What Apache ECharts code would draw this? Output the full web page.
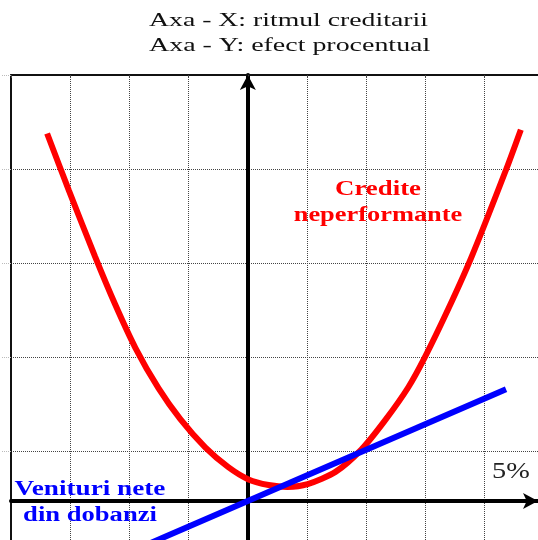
<!DOCTYPE html>
<html>
<head>
<meta charset="utf-8">
<script src="https://cdn.jsdelivr.net/npm/echarts@6/dist/echarts.min.js"></script>
<style>
html, body { margin: 0; padding: 0; background: #fff; }
#chart { width: 538px; height: 540px; }
</style>
</head>
<body>
<div id="chart"></div>
<script>
// x: ritmul creditarii (one grid column = 1 unit), y: efect procentual (x axis at y = 0)
const crediteNeperformante = [
  [-3.39, 3.91], [-3.02, 3.30], [-2.58, 2.60], [-2.24, 2.09], [-1.90, 1.63],
  [-1.51, 1.20], [-1.14, 0.87], [-0.72, 0.57], [-0.33, 0.36], [0.01, 0.23],
  [0.35, 0.17], [0.67, 0.15], [1.01, 0.18], [1.48, 0.31], [1.92, 0.55],
  [2.32, 0.86], [2.71, 1.21], [2.99, 1.53], [3.39, 2.05], [3.78, 2.60],
  [4.37, 3.54], [4.61, 3.95]
]
const venituriNete = [[-1.8, -0.49], [4.36, 1.19]]

const titleLines = ['Axa - X: ritmul creditarii', 'Axa - Y: efect procentual']
const redLabel = ['Credite', 'neperformante']
const blueLabel = ['Venituri nete', 'din dobanzi']
const xUnitLabel = '5%'

const xMin = -4, xMax = 4.9
const yMin = -0.468, yMax = 4.532

const serif = '"Liberation Serif", "Times New Roman", serif'

function txt(text, x, y, o) {
  return {
    type: 'text', x: x, y: y, scaleX: o.scaleX || 1, z: 100,
    style: {
      text: text, fill: o.color || '#111',
      fontSize: o.size, fontFamily: serif, fontWeight: o.bold ? 'bold' : 'normal',
      align: o.align || 'center', verticalAlign: 'middle',
      textAlign: o.align || 'center', textVerticalAlign: 'middle'
    }
  }
}

const chart = echarts.init(document.getElementById('chart'))

const dotted = { color: '#444', type: 'dotted', width: 1 }

chart.setOption({
  animation: false,
  backgroundColor: '#fff',
  // grid runs a few px past the bottom edge, like the cropped original
  grid: { left: 11, right: 0, top: 75, height: 470, outerBoundsMode: 'none', containLabel: false },
  xAxis: [
    {
      type: 'value', min: xMin, max: xMax, interval: 1,
      axisLine: {
        show: true, onZero: true,
        symbol: ['none', 'arrow'], symbolSize: [12, 15],
        lineStyle: { color: '#000', width: 4 }
      },
      axisTick: { show: false },
      axisLabel: { show: false },
      splitLine: { show: true, showMaxLine: false, lineStyle: dotted }
    },
    {
      type: 'value', position: 'top', min: xMin, max: xMax, interval: 1,
      axisLine: { show: true, onZero: false, lineStyle: { color: '#111', width: 2 } },
      axisTick: { show: true, inside: true, length: 3, lineStyle: { color: '#444' } },
      axisLabel: { show: false },
      splitLine: { show: false }
    }
  ],
  yAxis: [
    {
      type: 'value', min: yMin, max: yMax, interval: 1,
      axisLine: {
        show: true, onZero: true,
        symbol: ['none', 'arrow'], symbolSize: [12, 15],
        lineStyle: { color: '#000', width: 4 }
      },
      axisTick: { show: false },
      axisLabel: { show: false },
      splitLine: { show: true, lineStyle: dotted }
    },
    {
      type: 'value', position: 'left', min: yMin, max: yMax, interval: 1,
      axisLine: { show: true, onZero: false, lineStyle: { color: '#111', width: 2 } },
      axisTick: { show: true, length: 9, lineStyle: { color: '#bbb', type: 'dotted' } },
      axisLabel: { show: false },
      splitLine: { show: false }
    }
  ],
  series: [
    {
      name: 'Credite neperformante', type: 'line', data: crediteNeperformante,
      smooth: 0.25, showSymbol: false, z: 3,
      lineStyle: { color: '#ff0000', width: 6 }
    },
    {
      name: 'Venituri nete din dobanzi', type: 'line', data: venituriNete,
      showSymbol: false, z: 4,
      lineStyle: { color: '#0000ff', width: 6 }
    }
  ],
  graphic: [
    txt(titleLines[0], 149, 21.5, { size: 19, scaleX: 1.46, align: 'left' }),
    txt(titleLines[1], 149, 46.5, { size: 19, scaleX: 1.47, align: 'left' }),
    txt(redLabel[0], 378, 189, { size: 22, bold: true, color: '#ff0000', scaleX: 1.22 }),
    txt(redLabel[1], 378, 215.5, { size: 22, bold: true, color: '#ff0000', scaleX: 1.2 }),
    txt(blueLabel[0], 90, 489.5, { size: 20, bold: true, color: '#0000ff', scaleX: 1.36 }),
    txt(blueLabel[1], 90, 515.5, { size: 20, bold: true, color: '#0000ff', scaleX: 1.33 }),
    txt(xUnitLabel, 492, 472, { size: 24, color: '#222', scaleX: 1.18, align: 'left' })
  ]
})
</script>
</body>
</html>
